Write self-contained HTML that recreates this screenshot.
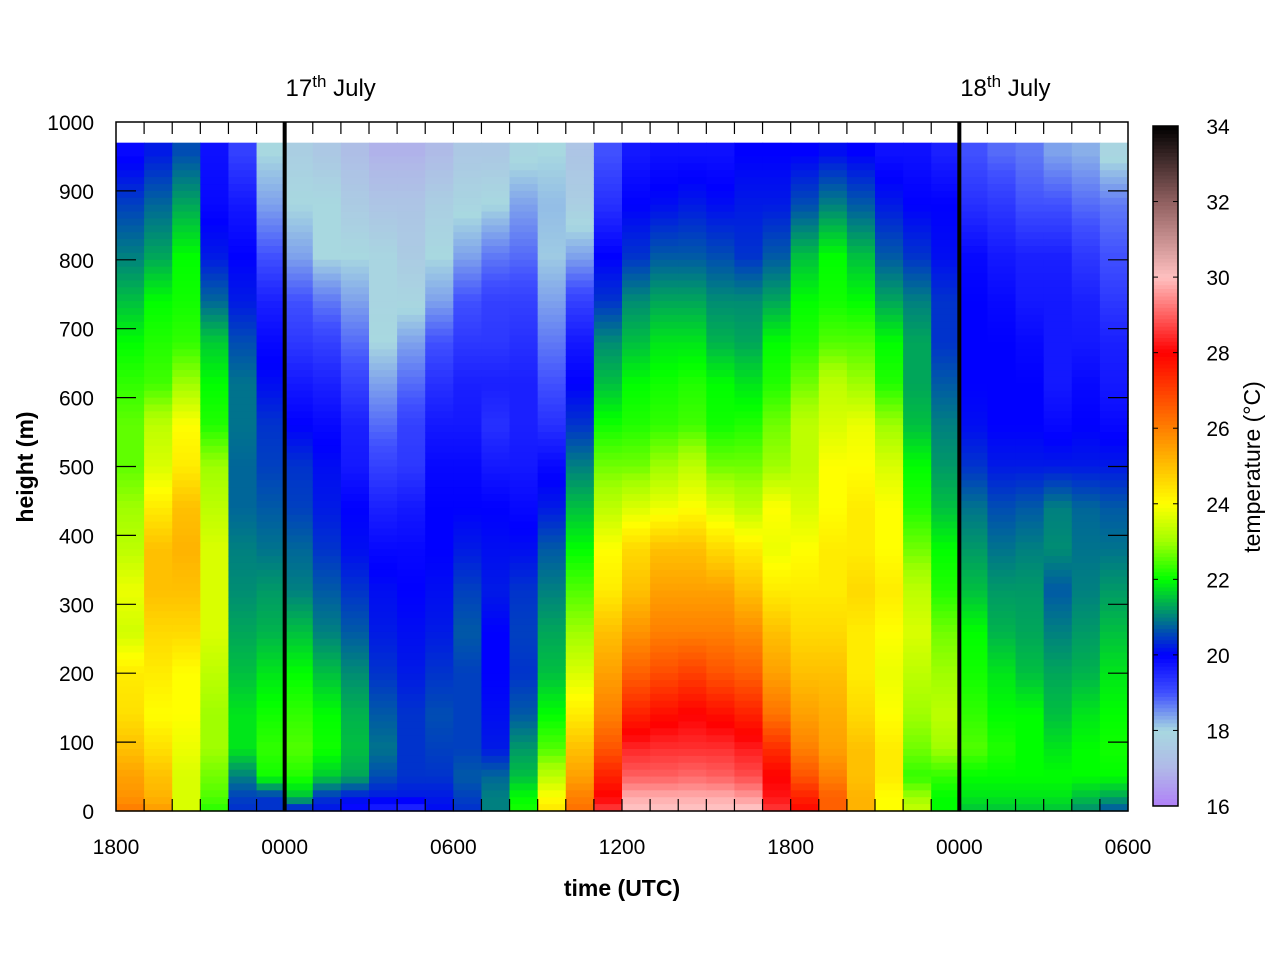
<!DOCTYPE html>
<html><head><meta charset="utf-8"><style>
body{margin:0;background:#fff;}
svg text{font-family:"Liberation Sans",sans-serif;fill:#000;}
</style></head><body>
<svg id="chart" width="1280" height="960" viewBox="0 0 1280 960" xmlns="http://www.w3.org/2000/svg">
<rect width="1280" height="960" fill="#fff"/>
<g id="cells"></g>
<g id="axes"></g>
</svg>
<script>
// hours since 18:00 on 16th (column start times)
const timeStarts = [0,1,2,3,4,5,6,7,8,9,10,11,12,13,14,15,16,17,18,19,20,21,22,23,24,25,26,27,28,29,30,31,32,33,34,35];
const heights = [955,880,805,740,680,620,560,500,440,380,320,260,200,140,90,50,20,5];
const xTickLabels = ["1800","0000","0600","1200","1800","0000","0600"];
const yTickLabels = ["0","100","200","300","400","500","600","700","800","900","1000"];
const cbTickLabels = ["16","18","20","22","24","26","28","30","32","34"];
const dayLabels = ["17", "18"];
const dayHours = [6, 30];
// temperature per column (top to bottom, matching heights)
const temps = [
[19.9,20.5,21,21.5,22,22.3,22.6,22.6,23,23.3,23.8,23.5,24.3,24.5,25,25.5,25.7,26],
[20.2,20.8,21.3,22,22.2,22.4,23.3,23.6,24.3,25,25,24.6,24.3,24,24.5,25,25.2,25.5],
[20.6,21.3,22,22.1,22.3,23,24,24.3,25,25.2,25,24.6,24,24,23.8,23.6,23.6,23.6],
[19.8,19.9,20.2,20.8,21.6,22,22.2,23,23.3,23.6,23.6,23.6,23.3,23,23,22.7,22.5,22.3],
[19.2,19.7,20,20.2,20.6,20.9,20.9,20.8,20.8,21,21.1,21.3,21.5,21.8,21.8,21,20.5,20.4],
[18,18.4,19,19.6,19.9,20.1,20.4,20.5,20.7,20.9,21.2,21.4,21.8,22.1,22.3,22.1,20.4,20.4],
[17.7,18,18.4,19,19.3,19.7,20,20.4,20.5,20.8,21,21.5,22,22.3,22.5,22.2,21.5,20.4],
[17.5,18,18,18.7,19.2,19.6,19.9,20.1,20.2,20.4,20.7,21,21.5,22,22.1,21.6,20.4,20.2],
[17.2,17.6,18,18.4,18.8,19.2,19.6,19.7,20,20.1,20.4,20.7,21.1,21.4,21.5,21.3,20.2,19.9],
[16.9,17.4,17.9,17.9,18,18.4,18.8,19.2,19.6,19.9,20.1,20.2,20.4,20.7,20.9,20.6,20.2,19.7],
[16.9,17.4,17.6,17.9,18.4,18.8,19.2,19.3,19.7,19.9,20,20.1,20.2,20.4,20.4,20.4,20.2,19.6],
[17.1,17.7,18,18.4,19,19.4,19.7,19.9,20,20,20.1,20.2,20.4,20.6,20.5,20.4,20.2,20.1],
[17.5,17.9,18.4,19,19.3,19.6,19.7,19.9,20,20.2,20.5,20.7,20.5,20.5,20.5,20.7,20.5,20.4],
[17.5,18,18.7,19.2,19.3,19.6,19.4,19.7,20,20.1,20.2,20,20,20.1,20.2,20.8,21,21],
[17.9,18.4,18.8,19.2,19.4,19.6,19.6,19.7,19.9,20.1,20.4,20.5,20.4,20.7,21.2,21.5,22,22.1],
[18,18.2,18.1,18.4,18.7,19,19.4,19.9,20.2,20.7,21,21.3,21.5,22,22.5,23.3,24,24.3],
[17.4,17.7,18.4,19.2,19.7,20,20.4,21,21.5,22,22.5,23,23.6,24.3,25,25.5,26,26.2],
[19,19.4,20,20.4,21.1,21.5,22.1,22.7,23.3,24,24.3,25,25.5,26,26.7,27.5,28,28.5],
[19.7,20,20.4,21.1,21.5,22,22.2,22.7,23.6,24.6,25,25.7,26.5,27.5,28.4,29,29.8,30],
[19.8,20.1,20.7,21.3,21.8,22.1,22.3,23,23.8,25,25.5,26,26.8,27.8,28.5,29,29.8,30],
[19.8,20.2,20.7,21.3,21.8,22.2,22.4,23.3,24,25,25.5,26,27,28,28.5,29.1,29.8,30],
[19.8,20.1,20.6,21.1,21.4,22,22.1,22.7,23.6,24.6,25.5,26,26.7,27.8,28.5,29,29.8,30],
[20,20.2,20.4,21.1,21.3,21.8,22.2,22.7,23.3,24.3,25,25.8,26.5,27.5,28.3,28.8,29.6,30],
[20,20.2,20.7,21.3,22,22.2,22.7,23,24,23.8,24.3,25,25.5,26.2,27.3,28,28.2,28.5],
[20,20.6,21.5,22,22.2,22.7,23.3,23.3,23.6,24,24.3,24.6,25,25.5,26,26.7,27.5,27.8],
[20.1,21,22,22.1,22.5,23.3,23.6,24,24,24.3,24.3,24.6,25,25.3,25.5,26,26.5,26.5],
[20,20.7,21.5,22,22.5,23,23.8,24,24.3,24.3,24.6,24.3,24.3,24.6,25,25,25.2,25.2],
[19.8,20.2,20.7,21.3,22,22.2,23,23.6,24,24,24.3,24,23.8,24,24.3,24.3,24,24],
[19.8,20,20.4,21,21.3,21.3,21.5,22,22.2,22.7,23.3,23.6,23.3,23,22.7,22.3,23,23.3],
[19.6,20,20.1,20.4,20.4,20.7,21,21.2,21.5,22,22.2,22.7,23,23.3,23,22.3,22,22],
[19,19.4,19.9,20,20,20,20.1,20.4,20.9,21.2,21.5,22,22.1,22.3,22.5,22,21.8,21.6],
[18.8,19.3,19.7,19.9,20,20,20,20.2,20.6,20.9,21.2,21.4,21.8,22,22.2,22,21.8,21.6],
[18.7,19,19.6,19.7,19.9,20,20,20.2,20.7,21,21.2,21.3,21.5,22,22,22,21.8,21.6],
[18.4,19,19.6,19.7,19.7,19.7,19.9,20.2,21,21.1,20.7,21,21.3,21.5,21.8,22,21.8,21.6],
[18.3,18.8,19.3,19.6,19.7,19.9,20,20.2,20.8,20.9,21,21.2,21.4,21.8,22,22,21.5,21.2],
[17.9,18.7,19,19.3,19.6,19.7,19.9,20.2,20.7,20.9,21.2,21.5,21.8,22,22.1,22,21.3,20.8]
];

const NS = "http://www.w3.org/2000/svg";
const PX0 = 116, PX1 = 1128, PY0 = 122, PY1 = 811;
const xScale = h => PX0 + (PX1 - PX0) * h / 36;
const yScale = m => PY1 - (PY1 - PY0) * m / 1000;
const stops = [[16,[176,128,248]],[17,[176,184,232]],[18,[168,216,224]],[19,[64,80,255]],[20,[0,0,255]],[21,[0,128,128]],[22,[0,255,0]],[23,[160,255,0]],[24,[255,255,0]],[25,[255,192,0]],[26,[255,128,0]],[27,[255,64,0]],[28,[255,0,0]],[29,[255,96,96]],[30,[255,192,192]],[32,[144,96,96]],[34,[0,0,0]]];
function cmap(v){
  if (v <= stops[0][0]) v = stops[0][0];
  for (let i = 0; i < stops.length - 1; i++) {
    const a = stops[i], b = stops[i+1];
    if (v <= b[0]) {
      const t = (v - a[0]) / (b[0] - a[0]);
      const c = a[1].map((x, j) => Math.round(x + (b[1][j] - x) * t));
      return "rgb(" + c.join(",") + ")";
    }
  }
  return "rgb(0,0,0)";
}
function valAt(col, m){
  const arr = temps[col];
  if (m >= heights[0]) return arr[0];
  if (m <= heights[heights.length-1]) return arr[arr.length-1];
  for (let i = 0; i < heights.length - 1; i++) {
    if (m <= heights[i] && m >= heights[i+1]) {
      const t = (heights[i] - m) / (heights[i] - heights[i+1]);
      return arr[i] + (arr[i+1] - arr[i]) * t;
    }
  }
  return arr[0];
}
const cells = document.getElementById("cells");
const TOP = 970, STEP = 10;
for (let c = 0; c < timeStarts.length; c++) {
  const x0 = xScale(timeStarts[c]), x1 = xScale(timeStarts[c] + 1);
  for (let m = TOP; m > 0; m -= STEP) {
    const mid = m - STEP / 2;
    const r = document.createElementNS(NS, "rect");
    r.setAttribute("x", x0.toFixed(2));
    r.setAttribute("y", yScale(m).toFixed(2));
    r.setAttribute("width", (x1 - x0 + 0.6).toFixed(2));
    r.setAttribute("height", (yScale(m - STEP) - yScale(m) + 0.6).toFixed(2));
    r.setAttribute("fill", cmap(valAt(c, mid)));
    
    
    cells.appendChild(r);
  }
}
const axes = document.getElementById("axes");
function el(tag, attrs, text){
  const e = document.createElementNS(NS, tag);
  for (const k in attrs) e.setAttribute(k, attrs[k]);
  if (text !== undefined) e.textContent = text;
  axes.appendChild(e);
  return e;
}
dayHours.forEach((h, i) => {
  const l = el("line", {x1: xScale(h), x2: xScale(h), y1: PY0, y2: PY1, stroke: "#000", "stroke-width": 4});
  
  
  const t = el("text", {x: xScale(h) + 46, y: 96, "font-size": 24, "text-anchor": "middle"});
  
  
  const s1 = document.createElementNS(NS, "tspan"); s1.textContent = dayLabels[i]; t.appendChild(s1);
  const s2 = document.createElementNS(NS, "tspan"); s2.setAttribute("dy", "-9"); s2.setAttribute("font-size", "17"); s2.textContent = "th"; t.appendChild(s2);
  const s3 = document.createElementNS(NS, "tspan"); s3.setAttribute("dy", "9"); s3.textContent = " July"; t.appendChild(s3);
});
const fr = el("rect", {x: PX0, y: PY0, width: PX1 - PX0, height: PY1 - PY0, fill: "none", stroke: "#000", "stroke-width": 1.5});


for (let h = 1; h < 36; h++) {
  const x = xScale(h);
  const len = 12;
  const a = el("line", {x1: x, x2: x, y1: PY1, y2: PY1 - len, stroke: "#000", "stroke-width": 1.2});
  
  
  const b = el("line", {x1: x, x2: x, y1: PY0, y2: PY0 + len, stroke: "#000", "stroke-width": 1.2});
  
  
}
xTickLabels.forEach((lab, i) => {
  const t = el("text", {x: xScale(i * 6), y: 854, "font-size": 21, "text-anchor": "middle"}, lab);
  
  
});
yTickLabels.forEach((lab, i) => {
  const y = yScale(i * 100);
  if (i > 0 && i < 10) {
    const a = el("line", {x1: PX0, x2: PX0 + 20, y1: y, y2: y, stroke: "#000", "stroke-width": 1.2});
    
    
    const b = el("line", {x1: PX1, x2: PX1 - 20, y1: y, y2: y, stroke: "#000", "stroke-width": 1.2});
    
    
  }
  const t = el("text", {x: 94, y: y + 8, "font-size": 21, "text-anchor": "end"}, lab);
  
  
});
const xt = el("text", {x: 622, y: 896, "font-size": 23, "font-weight": "bold", "text-anchor": "middle"}, "time (UTC)");


const yt = el("text", {x: 0, y: 0, "font-size": 23, "font-weight": "bold", "text-anchor": "middle", transform: "translate(33,467) rotate(-90)"}, "height (m)");


const CB0 = 126, CB1 = 806, CBX = 1153, CBW = 25;
const cbScale = v => CB1 - (CB1 - CB0) * (v - 16) / 18;
for (let v = 16; v < 34; v += 0.1) {
  const r = el("rect", {x: CBX, y: cbScale(v + 0.1).toFixed(2), width: CBW, height: (cbScale(v) - cbScale(v + 0.1) + 0.5).toFixed(2), fill: cmap(v + 0.05)});
  
  
}
const cbf = el("rect", {x: CBX, y: CB0, width: CBW, height: CB1 - CB0, fill: "none", stroke: "#000", "stroke-width": 1.5});


cbTickLabels.forEach(lab => {
  const y = cbScale(+lab);
  const a = el("line", {x1: CBX, x2: CBX + 5, y1: y, y2: y, stroke: "#000", "stroke-width": 1});
  
  
  const b = el("line", {x1: CBX + CBW - 5, x2: CBX + CBW, y1: y, y2: y, stroke: "#000", "stroke-width": 1});
  
  
  const t = el("text", {x: 1218, y: y + 8, "font-size": 21, "text-anchor": "middle"}, lab);
  
  
});
const ct = el("text", {x: 0, y: 0, "font-size": 23, "text-anchor": "middle", transform: "translate(1260,467) rotate(-90)"}, "temperature (°C)");


</script>
</body></html>
